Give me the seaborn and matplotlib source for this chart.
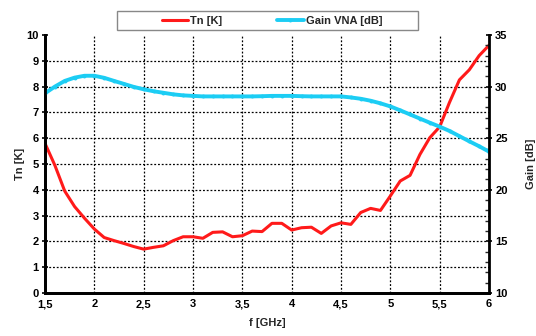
import numpy as np
import pandas as pd
import seaborn as sns
import matplotlib.pyplot as plt
from matplotlib.patches import Rectangle
from matplotlib.ticker import MultipleLocator

# Data
freq_ghz = [1.5, 1.6, 1.7, 1.8, 1.9, 2.0, 2.1, 2.2, 2.3, 2.4,
            2.5, 2.6, 2.7, 2.8, 2.9, 3.0, 3.1, 3.2, 3.3, 3.4,
            3.5, 3.6, 3.7, 3.8, 3.9, 4.0, 4.1, 4.2, 4.3, 4.4,
            4.5, 4.6, 4.7, 4.8, 4.9, 5.0, 5.1, 5.2, 5.3, 5.4,
            5.5, 5.6, 5.7, 5.8, 5.9, 6.0]
tn_k = [5.8, 4.95, 3.95, 3.35, 2.9, 2.48, 2.15, 2.03, 1.92, 1.8,
        1.7, 1.77, 1.83, 2.03, 2.18, 2.18, 2.12, 2.35, 2.37, 2.18,
        2.22, 2.4, 2.38, 2.7, 2.7, 2.44, 2.53, 2.55, 2.31, 2.6,
        2.72, 2.66, 3.12, 3.28, 3.2, 3.76, 4.34, 4.56, 5.37, 6.02,
        6.44, 7.39, 8.26, 8.65, 9.2, 9.6]
gain_db = [29.35, 30.0, 30.55, 30.87, 31.05, 31.05, 30.85, 30.55, 30.26, 29.97,
           29.74, 29.55, 29.4, 29.25, 29.15, 29.1, 29.05, 29.05, 29.05, 29.05,
           29.05, 29.05, 29.07, 29.1, 29.1, 29.1, 29.07, 29.05, 29.05, 29.05,
           29.05, 28.95, 28.82, 28.63, 28.38, 28.08, 27.7, 27.3, 26.9, 26.5,
           26.12, 25.7, 25.2, 24.7, 24.22, 23.7]

x_ticks = [1.5, 2, 2.5, 3, 3.5, 4, 4.5, 5, 5.5, 6]
x_tick_labels = ["1,5", "2", "2,5", "3", "3,5", "4", "4,5", "5", "5,5", "6"]

df = pd.DataFrame({"f": freq_ghz, "tn": tn_k, "gain": gain_db})

sns.set_style("white")
plt.rcParams['font.family'] = ['Liberation Sans', 'DejaVu Sans']
plt.rcParams['font.weight'] = 'bold'

fig = plt.figure(figsize=(5.36, 3.36), dpi=100)
ax = fig.add_axes([45 / 536, 1 - 293 / 336, 444 / 536, 258 / 336])
ax2 = ax.twinx()

red = "#FF1A1A"
cyan = "#1CCDF4"

sns.lineplot(data=df, x="f", y="tn", ax=ax, color=red, linewidth=2.2, label="Tn [K]", legend=False)
sns.lineplot(data=df, x="f", y="gain", ax=ax2, color=cyan, linewidth=2.8,
             marker="o", markersize=2.8, markeredgewidth=0, label="Gain VNA [dB]", legend=False)

ax.set_xlim(1.5, 6)
ax.set_ylim(0, 10)
ax2.set_ylim(10, 35)
ax.set_xticks(x_ticks)
ax.set_xticklabels(x_tick_labels)
ax.set_yticks(range(0, 11))
ax2.set_yticks(range(10, 36, 5))
ax2.yaxis.set_minor_locator(MultipleLocator(1))

ax.grid(True, color="black", linestyle=(0, (1.5, 1.5)), linewidth=0.9)
for gl in ax.yaxis.get_gridlines()[-1:]:
    gl.set_visible(False)

for a in (ax, ax2):
    for side in ("left", "right", "bottom"):
        a.spines[side].set_linewidth(2)
        a.spines[side].set_color("black")
    a.spines["top"].set_visible(False)
ax.spines["right"].set_visible(False)

ax.tick_params(axis="both", which="major", direction="inout", length=5, width=1.2,
               labelsize=8, colors="black", pad=2)
ax2.tick_params(axis="y", which="major", direction="inout", length=5, width=1.2,
                labelsize=8, colors="black", pad=2)
ax2.tick_params(axis="y", which="minor", direction="in", length=3, width=1, right=True)

ax.set_xlabel("f [GHz]", fontsize=8, fontweight="bold", labelpad=6)
ax.set_ylabel("Tn [K]", fontsize=8, fontweight="bold", labelpad=1)
ax2.set_ylabel("Gain [dB]", fontsize=8, fontweight="bold", labelpad=13)

# Legend box (drawn separately so the entries stay centred in a wide frame)
fig.patches.append(Rectangle((117 / 536, 1 - 30 / 336), 301 / 536, 19 / 336,
                             transform=fig.transFigure, facecolor="white",
                             edgecolor="#888888", linewidth=1, zorder=0))
h1, l1 = ax.get_legend_handles_labels()
h2, l2 = ax2.get_legend_handles_labels()
leg = fig.legend(h1 + h2, l1 + l2, loc="center", ncol=2,
                 bbox_to_anchor=(272 / 536, 1 - 20.5 / 336),
                 frameon=False, fontsize=8, handlelength=2.4,
                 handletextpad=0.2, columnspacing=4.9)

fig.savefig("out.png", dpi=100)
plt.close(fig)
